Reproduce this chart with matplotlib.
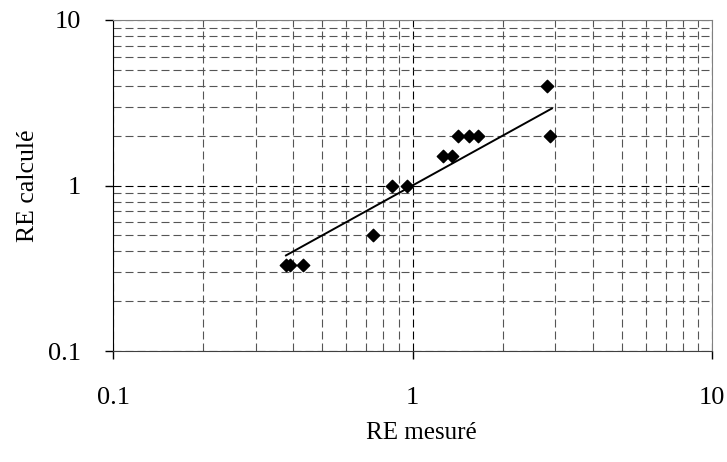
import matplotlib.pyplot as plt
import numpy as np

re_mesure = [0.378, 0.39, 0.43, 0.736, 0.853, 0.959, 1.26, 1.36, 1.42, 1.54, 1.65, 2.82, 2.88]
re_calcule = [0.333, 0.333, 0.333, 0.5, 1.0, 1.0, 1.5, 1.5, 2.0, 2.0, 2.0, 4.0, 2.0]

plt.rcParams['font.family'] = ['Liberation Serif', 'DejaVu Serif']

fig = plt.figure(figsize=(7.27, 4.62), dpi=100)
ax = fig.add_axes([113/727, 111/462, 599/727, 331/462])

# y = x reference line over the measured range
xf = np.linspace(min(re_mesure), 2.92, 50)
ax.plot(xf, xf, color='black', lw=1.4, zorder=3)

ax.scatter(re_mesure, re_calcule, marker='D', s=40, color='black', zorder=4)

ax.set_xscale('log')
ax.set_yscale('log')
ax.set_xlim(0.1, 10)
ax.set_ylim(0.1, 10)
ax.set_xticks([0.1, 1, 10])
ax.set_xticklabels(['0.1', '1', '10'])
ax.set_yticks([0.1, 1, 10])
ax.set_yticklabels(['0.1', '1', '10'])
ax.tick_params(which='major', direction='out', length=6, width=1, labelsize=19)
ax.tick_params(axis='y', pad=17)
ax.tick_params(axis='x', pad=20)
ax.tick_params(which='minor', length=0)

ax.grid(True, which='major', color='black', ls=(0, (7.2, 3.6)), lw=0.8)
ax.grid(True, which='minor', color='#555555', ls=(0, (7.2, 3.6)), lw=0.8)

for s in ['top', 'right']:
    ax.spines[s].set_color('#808080')
ax.spines['left'].set_color('black')
ax.spines['bottom'].set_color('#404040')

fig.text(421/727, 1 - 433/462, 'RE mesuré', fontsize=18, ha='center', va='center')
fig.text(28/727, 1 - 186/462, 'RE calculé', fontsize=18.5, ha='center', va='center',
         rotation=90)

fig.savefig('out.png', dpi=100)
